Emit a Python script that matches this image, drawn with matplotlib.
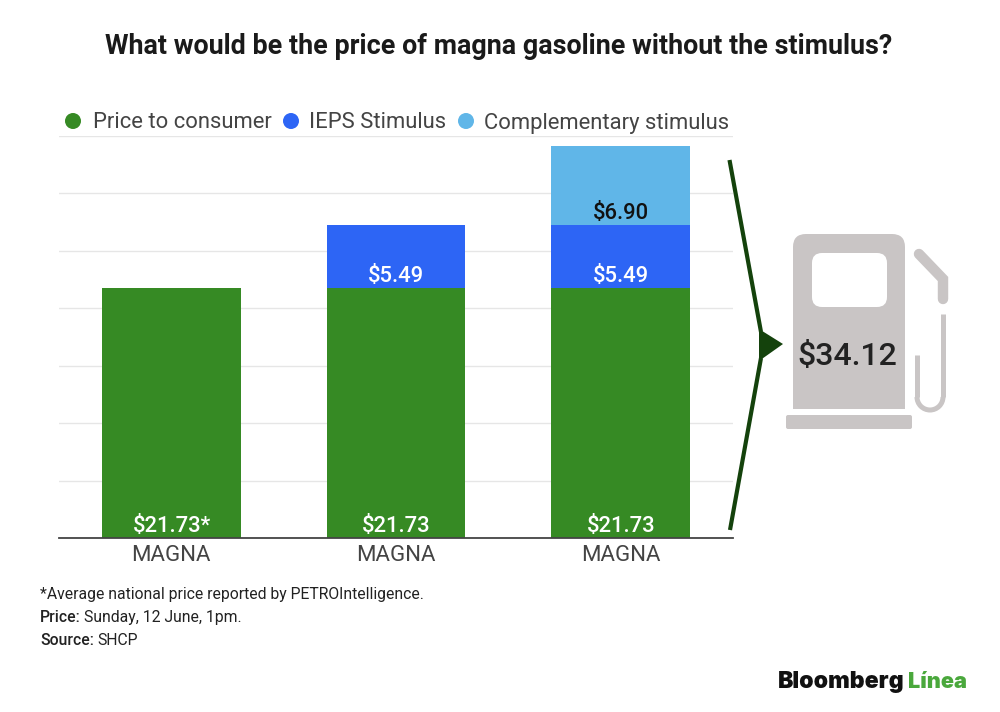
import numpy as np
import matplotlib
matplotlib.use("Agg")
import matplotlib.pyplot as plt
from matplotlib.patches import FancyBboxPatch, Polygon, Rectangle, Circle, Arc

plt.rcParams['font.family'] = ['Roboto', 'DejaVu Sans']

categories = ["MAGNA", "MAGNA", "MAGNA"]
consumer = [21.73, 21.73, 21.73]
ieps = [0, 5.49, 5.49]
complementary = [0, 0, 6.90]
consumer_labels = ["$21.73*", "$21.73", "$21.73"]
ieps_labels = ["", "$5.49", "$5.49"]
complementary_labels = ["", "", "$6.90"]
series_names = ["Price to consumer", "IEPS Stimulus", "Complementary stimulus"]
total_label = "$34.12"
yticks = [0, 5, 10, 15, 20, 25, 30, 35]

GREEN = "#368a24"
BLUE = "#2d65f5"
LIGHT = "#60b6e8"
GREY = "#c9c5c5"
DARK = "#14420c"

W, H = 1000, 712
fig = plt.figure(figsize=(W / 100, H / 100), dpi=100, facecolor="white")

# chart area in pixels: x 59-733, baseline at y 538
ax = fig.add_axes([59 / W, (H - 538) / H, 674 / W, 402.5 / H])
x = np.arange(len(categories))
consumer = np.array(consumer)
ieps = np.array(ieps)
complementary = np.array(complementary)
ax.bar(x, consumer, width=0.617, color=GREEN, zorder=3)
ax.bar(x, ieps, width=0.617, bottom=consumer, color=BLUE, zorder=3)
ax.bar(x, complementary, width=0.617, bottom=consumer + ieps, color=LIGHT, zorder=3)
ax.set_xlim(-0.5, 2.5)
ax.set_ylim(0, 35)
ax.set_yticks(yticks)
ax.set_yticklabels([])
ax.set_xticks(x)
ax.set_xticklabels(categories, fontsize=16, color="#444444")
ax.tick_params(length=0)
ax.tick_params(axis="x", pad=5)
ax.grid(axis="y", color="#e6e6e6", lw=1, zorder=0)
for s in ["top", "left", "right"]:
    ax.spines[s].set_visible(False)
ax.spines["bottom"].set_color("#444444")
ax.spines["bottom"].set_linewidth(1.3)
ax.spines["bottom"].set_zorder(5)

def bar_label(xp, base, txt, color):
    if txt:
        ax.annotate(txt, (xp, base), xytext=(0.3, 4.2), textcoords="offset points",
                    ha="center", va="baseline", fontsize=15.8, fontweight="medium",
                    color=color, zorder=6)

for i in x:
    bar_label(i, 0, consumer_labels[i], "white")
    bar_label(i, consumer[i], ieps_labels[i], "white")
    bar_label(i, consumer[i] + ieps[i], complementary_labels[i], "#111111")

# overlay in image pixels for text and the pump drawing
ov = fig.add_axes([0, 0, 1, 1], facecolor="none")
ov.set_xlim(0, W)
ov.set_ylim(H, 0)
ov.axis("off")

ov.text(498.5, 46.5, "What would be the price of magna gasoline without the stimulus?",
        ha="center", va="center", fontsize=19.4, fontweight="bold", color="#1a1a1a")

# legend
for cx, tx, c, name in zip([73, 291, 466], [93, 309, 484], [GREEN, BLUE, LIGHT], series_names):
    ov.add_patch(Circle((cx, 121), 8, color=c, lw=0))
    ov.text(tx, 128.5, name, ha="left", va="baseline", fontsize=15.8, color="#444444")

# bracket
ov.plot([729.5, 761], [160, 332], color=DARK, lw=3, solid_capstyle="butt")
ov.plot([761, 730], [358, 530], color=DARK, lw=3, solid_capstyle="butt")
ov.add_patch(Polygon([[759, 329], [783, 344], [759, 361]], closed=True, color=DARK, lw=0))

# pump
ov.add_patch(FancyBboxPatch((793, 234), 112, 60, boxstyle="round,pad=0,rounding_size=13",
                            color=GREY, lw=0))
ov.add_patch(Rectangle((793, 250), 112, 159, color=GREY, lw=0))
ov.add_patch(FancyBboxPatch((812, 253), 75, 54, boxstyle="round,pad=0,rounding_size=10",
                            color="white", lw=0))
ov.add_patch(FancyBboxPatch((786, 415), 126, 14, boxstyle="round,pad=0,rounding_size=2",
                            color=GREY, lw=0))
ov.plot([919, 943, 943], [254, 279, 299], color=GREY, lw=7.5, solid_capstyle="round",
        solid_joinstyle="miter")
ov.plot([943, 943], [314, 397], color=GREY, lw=3.6, solid_capstyle="butt")
ov.plot([917, 917], [355, 397], color=GREY, lw=3.6, solid_capstyle="butt")
ov.add_patch(Arc((930, 397), 26, 26, theta1=0, theta2=180, color=GREY, lw=3.6))
ov.text(847, 356, total_label, ha="center", va="center", fontsize=23, fontweight="medium",
        color="#222222")

# footnotes
ov.text(40, 598.5, "*Average national price reported by PETROIntelligence.", va="baseline",
        fontsize=11.3, color="#222222")
ov.text(40, 622, "Price:", va="baseline", fontsize=11.3, fontweight="medium", color="#222222")
ov.text(84, 622, "Sunday, 12 June, 1pm.", va="baseline", fontsize=11.3, color="#222222")
ov.text(40, 645, "Source:", va="baseline", fontsize=11.3, fontweight="medium", color="#222222")
ov.text(97, 645, "SHCP", va="baseline", fontsize=11.3, color="#222222")

# logo
ov.text(778, 688, "Bloomberg", va="baseline", fontsize=16.6, fontweight="black", color="#111111",
        family="Inter")
ov.text(967, 688, "Línea", va="baseline", ha="right", fontsize=15.6, fontweight="black",
        color="#4aa83c", family="Inter")

fig.savefig("out.png", dpi=100)
